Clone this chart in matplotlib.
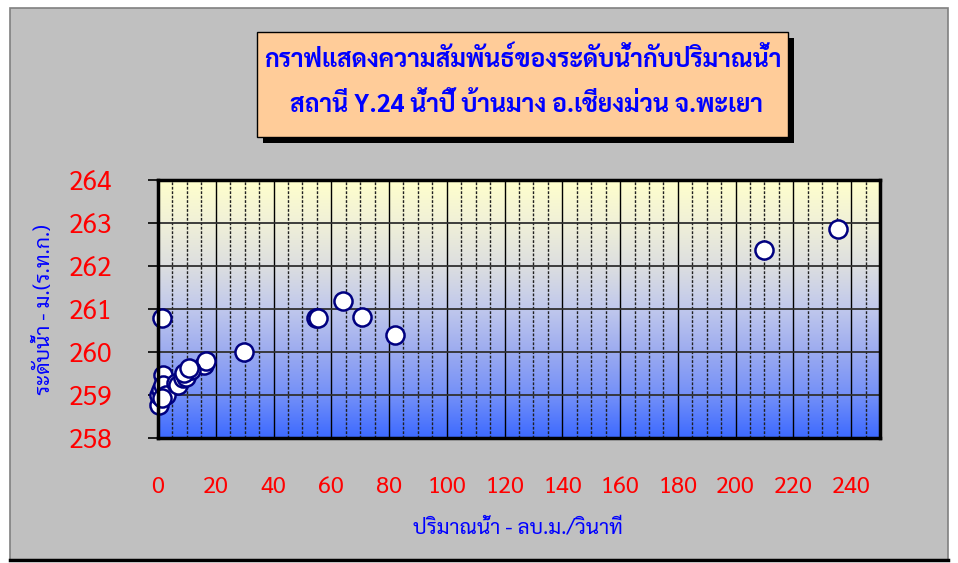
import matplotlib
matplotlib.use("Agg")
import matplotlib.pyplot as plt
import numpy as np
from matplotlib.colors import LinearSegmentedColormap
from matplotlib.patches import Rectangle

THAI = ['Sarabun', 'Noto Sans Thai Looped', 'Noto Sans Thai', 'DejaVu Sans']
plt.rcParams['font.family'] = THAI

title_line1 = "กราฟแสดงความสัมพันธ์ของระดับน้ำกับปริมาณน้ำ"
title_line2 = "สถานี Y.24 น้ำปี้ บ้านมาง อ.เชียงม่วน จ.พะเยา"
x_label = "ปริมาณน้ำ - ลบ.ม./วินาที"
y_label = "ระดับน้ำ - ม.(ร.ท.ก.)"

x_ticks = [0, 20, 40, 60, 80, 100, 120, 140, 160, 180, 200, 220, 240]
y_ticks = [258, 259, 260, 261, 262, 263, 264]

# discharge (m3/s) and water level (m MSL)
discharge = [235.5, 209.9, 64.1, 54.7, 55.4, 70.6, 82.1, 29.8, 1.4,
             16.0, 16.6, 1.6, 0.5, 0.5, 1.0, 1.6, 2.8, 6.2, 6.8, 8.5,
             9.7, 10.2, 11.4, 9.1, 10.9, 1.3]
level = [262.85, 262.38, 261.19, 260.79, 260.80, 260.81, 260.39, 259.99, 260.79,
         259.70, 259.78, 259.47, 258.77, 259.00, 259.12, 259.23, 259.00, 259.27, 259.23, 259.39,
         259.43, 259.55, 259.59, 259.51, 259.62, 258.94]

W, H = 958, 563
fig = plt.figure(figsize=(W / 100, H / 100), dpi=100)
fig.patch.set_facecolor('white')

def fx(px):
    return px / W

def fy(py):
    return 1 - py / H

# outer chart area
fig.patches.append(Rectangle((fx(10), fy(560)), fx(938), 552 / H, transform=fig.transFigure,
                             facecolor='#c0c0c0', edgecolor='#808080', lw=1.2, zorder=-10))
fig.add_artist(plt.Line2D([fx(10), fx(948)], [fy(560), fy(560)], transform=fig.transFigure,
                          color='black', lw=2.5, zorder=-9))

# title box with shadow
bx0, by0, bx1, by1 = 257, 32, 788, 137
fig.patches.append(Rectangle((fx(bx0 + 6), fy(by1 + 6)), fx(bx1 - bx0), (by1 - by0) / H,
                             transform=fig.transFigure, facecolor='black', edgecolor='none', zorder=1))
fig.patches.append(Rectangle((fx(bx0), fy(by1)), fx(bx1 - bx0), (by1 - by0) / H,
                             transform=fig.transFigure, facecolor='#ffcc99', edgecolor='black',
                             lw=1.0, zorder=2))
fig.text(fx((bx0 + bx1) / 2), fy(60), title_line1, ha='center', va='center', fontsize=17.8,
         fontweight='bold', color='#0000ff', zorder=3)
fig.text(fx((bx0 + bx1) / 2 + 4), fy(106), title_line2, ha='center', va='center', fontsize=17.8,
         fontweight='bold', color='#0000ff', zorder=3)

# plot area
ax = fig.add_axes([fx(158), fy(438), fx(880 - 158), (438 - 180) / H])
ax.set_zorder(5)
ax.set_xlim(0, 250)
ax.set_ylim(258, 264)

cmap = LinearSegmentedColormap.from_list('bg', [
    (0.0, '#3d6aff'), (1 / 6, '#7490f8'), (2 / 6, '#9cabf0'), (3 / 6, '#c0c8ec'),
    (4 / 6, '#dcdee0'), (5 / 6, '#f0f0d8'), (1.0, '#ffffcc')])
grad = np.linspace(0, 1, 256).reshape(-1, 1)
ax.imshow(grad, cmap=cmap, origin='lower', extent=[0, 250, 258, 264], aspect='auto', zorder=0)

for xv in np.arange(5, 250, 5):
    if xv % 20 == 0:
        ax.axvline(xv, color='black', lw=1.0, zorder=1)
    else:
        ax.axvline(xv, color='#202020', lw=1.0, ls=(0, (2, 1.2)), zorder=1)
for yv in y_ticks[1:-1]:
    ax.axhline(yv, color='#303030', lw=1.3, zorder=1)

ax.scatter(discharge, level, s=170, facecolor='white', edgecolor='#000080', linewidths=1.8,
           zorder=3, clip_on=False)

for side in ['top', 'left', 'right', 'bottom']:
    ax.spines[side].set_color('black')
    ax.spines[side].set_linewidth(2.5)
    ax.spines[side].set_zorder(4)

ax.set_xticks(x_ticks)
ax.set_yticks(y_ticks)
ax.tick_params(axis='y', direction='out', length=7, width=1.2, colors='black', pad=26,
               labelcolor='#ff0000', labelsize=19)
ax.tick_params(axis='x', length=0, pad=27, labelcolor='#ff0000', labelsize=17)

fig.text(fx(518), fy(528), x_label, ha='center', va='center', fontsize=15, color='#0000ff')
fig.text(fx(45), fy(310), y_label, ha='center', va='center', fontsize=15, color='#0000ff',
         rotation=90)

fig.savefig('out.png', dpi=100, facecolor=fig.get_facecolor())
